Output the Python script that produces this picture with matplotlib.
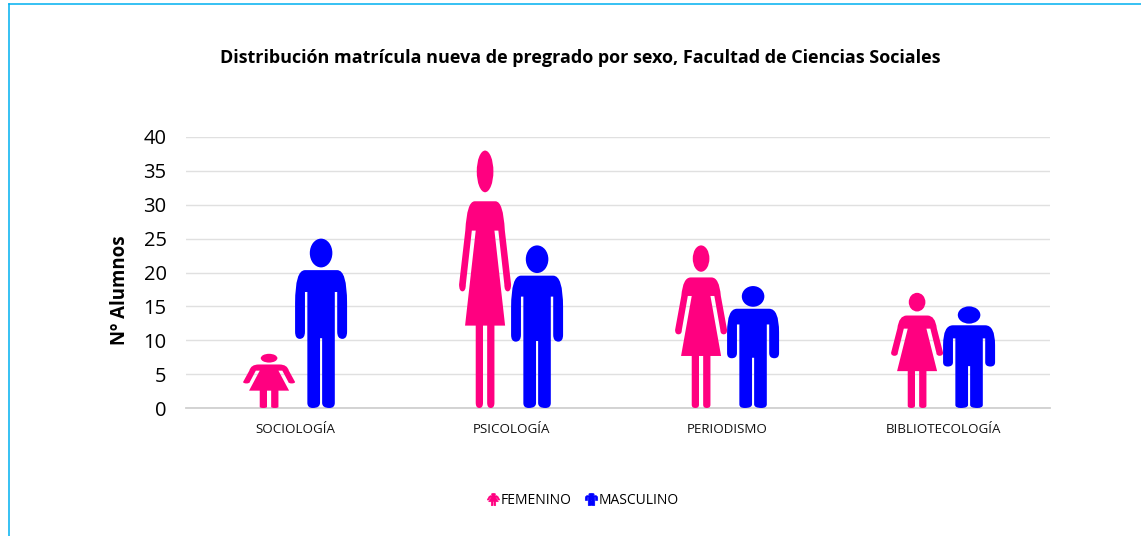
import matplotlib
matplotlib.use('Agg')
import matplotlib.pyplot as plt
from matplotlib.lines import Line2D
from matplotlib.patches import PathPatch
from matplotlib.path import Path
from matplotlib.transforms import Affine2D
import numpy as np

categories = ['SOCIOLOGÍA', 'PSICOLOGÍA', 'PERIODISMO', 'BIBLIOTECOLOGÍA']
femenino = [8, 38, 24, 17]
masculino = [25, 24, 18, 15]
yticks = [0, 5, 10, 15, 20, 25, 30, 35, 40]

PINK = '#FF0080'
BLUE = '#0000FF'
GRID = '#E0E0E0'
BORDER = '#00B0F0'
FONT = ['Open Sans', 'DejaVu Sans']

plt.rcParams['font.family'] = FONT

M, L, C3, Z = Path.MOVETO, Path.LINETO, Path.CURVE3, Path.CLOSEPOLY


def ellipse(cx, cy, rx, ry):
    # head of the figure, in the unit box
    return Path.unit_circle().transformed(Affine2D().scale(rx, ry).translate(cx, cy))


# glyphs live in a unit box and get stretched to each bar
def male_glyph():
    body = [
        ((0.19, 0.814), M), ((0.0, 0.814), C3), ((0.0, 0.62), C3),
        ((0.0, 0.45), L), ((0.0, 0.408), C3), ((0.09, 0.408), C3),
        ((0.19, 0.408), C3), ((0.19, 0.45), C3),
        ((0.19, 0.685), L), ((0.236, 0.685), L),
        ((0.236, 0.03), L), ((0.236, 0.0), C3), ((0.34, 0.0), C3),
        ((0.48, 0.0), C3), ((0.48, 0.03), C3),
        ((0.48, 0.412), L), ((0.52, 0.412), L),
        ((0.52, 0.03), L), ((0.52, 0.0), C3), ((0.66, 0.0), C3),
        ((0.764, 0.0), C3), ((0.764, 0.03), C3),
        ((0.764, 0.685), L), ((0.81, 0.685), L),
        ((0.81, 0.45), L), ((0.81, 0.408), C3), ((0.91, 0.408), C3),
        ((1.0, 0.408), C3), ((1.0, 0.45), C3),
        ((1.0, 0.62), L), ((1.0, 0.814), C3), ((0.81, 0.814), C3),
        ((0.19, 0.814), Z),
    ]
    verts, codes = zip(*body)
    return Path.make_compound_path(Path(verts, codes), ellipse(0.5, 0.915, 0.217, 0.085))


def female_glyph():
    body = [
        ((0.30, 0.803), M), ((0.15, 0.803), C3), ((0.12, 0.69), C3),
        ((0.0, 0.48), L), ((0.0, 0.453), C3), ((0.065, 0.453), C3),
        ((0.13, 0.453), C3), ((0.13, 0.48), C3),
        ((0.245, 0.689), L), ((0.32, 0.689), L),
        ((0.115, 0.32), L), ((0.32, 0.32), L),
        ((0.32, 0.02), L), ((0.32, 0.0), C3), ((0.39, 0.0), C3),
        ((0.46, 0.0), C3), ((0.46, 0.02), C3),
        ((0.46, 0.32), L), ((0.54, 0.32), L),
        ((0.54, 0.02), L), ((0.54, 0.0), C3), ((0.61, 0.0), C3),
        ((0.68, 0.0), C3), ((0.68, 0.02), C3),
        ((0.68, 0.32), L), ((0.885, 0.32), L),
        ((0.68, 0.689), L), ((0.755, 0.689), L),
        ((0.87, 0.48), L), ((0.87, 0.453), C3), ((0.935, 0.453), C3),
        ((1.0, 0.453), C3), ((1.0, 0.48), C3),
        ((0.88, 0.69), L), ((0.85, 0.803), C3), ((0.70, 0.803), C3),
        ((0.30, 0.803), Z),
    ]
    verts, codes = zip(*body)
    return Path.make_compound_path(Path(verts, codes), ellipse(0.5, 0.919, 0.16, 0.081))


fig = plt.figure(figsize=(11.41, 5.36), dpi=100)
ax = fig.add_axes([186 / 1141, 1 - 408 / 536, 864 / 1141, 271 / 536])

x = np.arange(len(categories))
width = 52 / 216


def picto_bars(xpos, values, glyph, color):
    # invisible bars give the geometry, the glyph is stretched over each one
    bars = ax.bar(xpos, values, width, color='none', linewidth=0)
    for b in bars:
        tr = Affine2D().scale(b.get_width(), b.get_height()).translate(b.get_x(), 0) + ax.transData
        ax.add_patch(PathPatch(glyph, transform=tr, facecolor=color, edgecolor='none', zorder=3))


picto_bars(x - width / 2, femenino, female_glyph(), PINK)
picto_bars(x + width / 2, masculino, male_glyph(), BLUE)

ax.set_xlim(-0.505, len(categories) - 0.505)
ax.set_ylim(0, 40)
ax.set_yticks(yticks)
ax.set_xticks(x)
ax.set_xticklabels(categories, fontsize=9.6, color='#111111')
ax.tick_params(axis='both', length=0)
ax.tick_params(axis='y', labelsize=14.5, pad=14)
ax.tick_params(axis='x', pad=10.5)
ax.yaxis.grid(True, color=GRID, linewidth=1)
ax.set_axisbelow(True)
for s in ['top', 'left', 'right']:
    ax.spines[s].set_visible(False)
ax.spines['bottom'].set_color('#D0D0D0')
ax.spines['bottom'].set_linewidth(1.3)

fig.text(120 / 1141, 1 - 290 / 536, 'Nº Alumnos', rotation=90, fontsize=13.4,
         fontweight='bold', ha='center', va='center')
fig.text(580 / 1141, 1 - 58.5 / 536, 'Distribución matrícula nueva de pregrado por sexo, Facultad de Ciencias Sociales',
         fontsize=12.97, fontweight='bold', ha='center', va='center')


# legend markers re-centred on the origin
def marker_of(glyph):
    return glyph.transformed(Affine2D().translate(-0.5, -0.5))


handles = [
    Line2D([], [], linestyle='none', marker=marker_of(female_glyph()), markersize=9,
           markerfacecolor=PINK, markeredgecolor=PINK, markeredgewidth=0.4, label='FEMENINO'),
    Line2D([], [], linestyle='none', marker=marker_of(male_glyph()), markersize=9,
           markerfacecolor=BLUE, markeredgecolor=BLUE, markeredgewidth=0.4, label='MASCULINO'),
]
fig.legend(handles=handles, loc='center', bbox_to_anchor=(583.5 / 1141, 1 - 500 / 536), ncol=2,
           frameon=False, fontsize=10, handlelength=0.7, handletextpad=0.15, columnspacing=1.1)

# frame of the slide, only top and left are in the crop
fig.add_artist(Line2D([8.5 / 1141, 8.5 / 1141], [0, 1 - 3.5 / 536], color=BORDER, linewidth=1.1))
fig.add_artist(Line2D([8.5 / 1141, 1], [1 - 3.5 / 536, 1 - 3.5 / 536], color=BORDER, linewidth=1.1))

fig.savefig('out.png', dpi=100)
